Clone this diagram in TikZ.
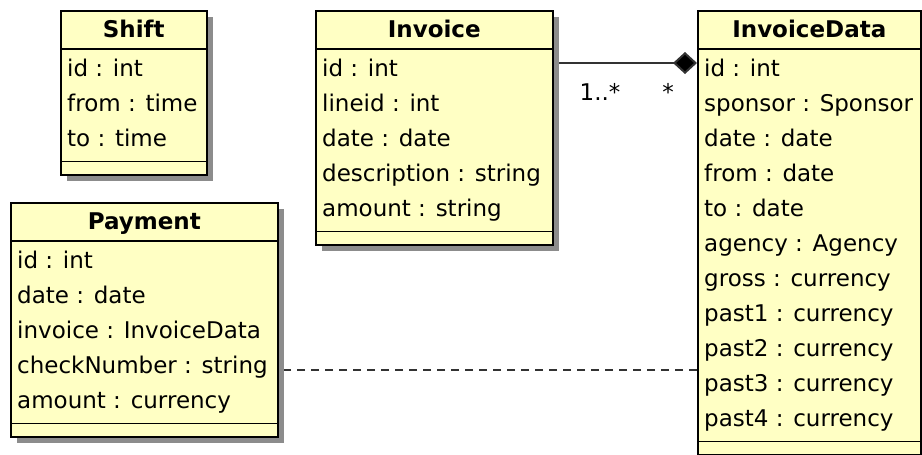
\documentclass[tikz,border=0pt]{standalone}
\usepackage{fontspec}
\setmainfont{DejaVu Sans}
\usetikzlibrary{arrows.meta,shadows,backgrounds}

\definecolor{classfill}{RGB}{255,255,196}
\definecolor{shadowgray}{RGB}{140,140,140}
\definecolor{linegray}{RGB}{50,50,50}

\newcommand\diagramfont{\fontsize{23}{28}\selectfont}

\tikzset{
  classbox/.style={draw=black, line width=1.6pt, fill=classfill, inner sep=0pt,
    drop shadow={shadow xshift=6pt, shadow yshift=-6pt, fill=shadowgray, opacity=1}},
  sepline/.style={draw=black, line width=1.6pt},
  titletext/.style={inner sep=0pt, font=\diagramfont\bfseries},
  attrtext/.style={inner sep=0pt, anchor=base west},
  assoc/.style={draw=linegray, line width=2pt},
  dependency/.style={draw=linegray, line width=1.8pt, dash pattern=on 8pt off 6pt},
  multiplicity/.style={inner sep=0pt, anchor=base}
}

% \umlclass{name}{left}{top}{width}{title}{attribute list}
\newcommand\umlclass[6]{%
  \foreach \a [count=\i] in {#6} {\xdef\nrows{\i}}%
  \pgfmathsetmacro\boxh{39+35*\nrows+6+14}%
  \node[classbox, minimum width=#4pt, minimum height=\boxh pt, anchor=north west] (#1) at (#2,-#3) {};
  \draw[sepline] ([yshift=-39pt]#1.north west) -- ([yshift=-39pt]#1.north east);
  \draw[sepline] ([yshift=14pt]#1.south west) -- ([yshift=14pt]#1.south east);
  \node[titletext, anchor=base] at ([yshift=-27pt]#1.north) {#5};
  \foreach \a [count=\i] in {#6}
    \node[attrtext] at ([xshift=7pt, yshift={-39-35*\i+16-8}]#1.north west) {\a};
}

\begin{document}
\begin{tikzpicture}[x=1pt, y=1pt, font=\diagramfont]
  \useasboundingbox (0,0) rectangle (922,-455);

  \umlclass{shift}{60}{10}{146}{Shift}{id : int, from : time, to : time}
  \umlclass{invoice}{315}{10}{237}{Invoice}{id : int, lineid : int, date : date,
    description : string, amount : string}
  \umlclass{payment}{10}{202}{267}{Payment}{id : int, date : date,
    invoice : InvoiceData, checkNumber : string, amount : currency}
  \umlclass{invoicedata}{697}{10}{223}{InvoiceData}{id : int, sponsor : Sponsor,
    date : date, from : date, to : date, agency : Agency, gross : currency,
    past1 : currency, past2 : currency, past3 : currency, past4 : currency}

  \begin{scope}[on background layer]
    % composition: Invoice -- InvoiceData
    \draw[assoc, -{Diamond[length=24pt, width=22pt, fill=black]}]
      ([yshift=-53pt]invoice.north east) -- ([yshift=-53pt]invoicedata.north west);
    % dependency: InvoiceData -- Payment
    \draw[dependency]
      ([yshift=-168pt]payment.north east -| invoicedata.west) -- ([yshift=-168pt]payment.north east);
  \end{scope}

  \node[multiplicity] (multinv) at (600,-100) {1..*};
  \node[multiplicity] (multdata) at (668,-100) {*};
\end{tikzpicture}
\end{document}
